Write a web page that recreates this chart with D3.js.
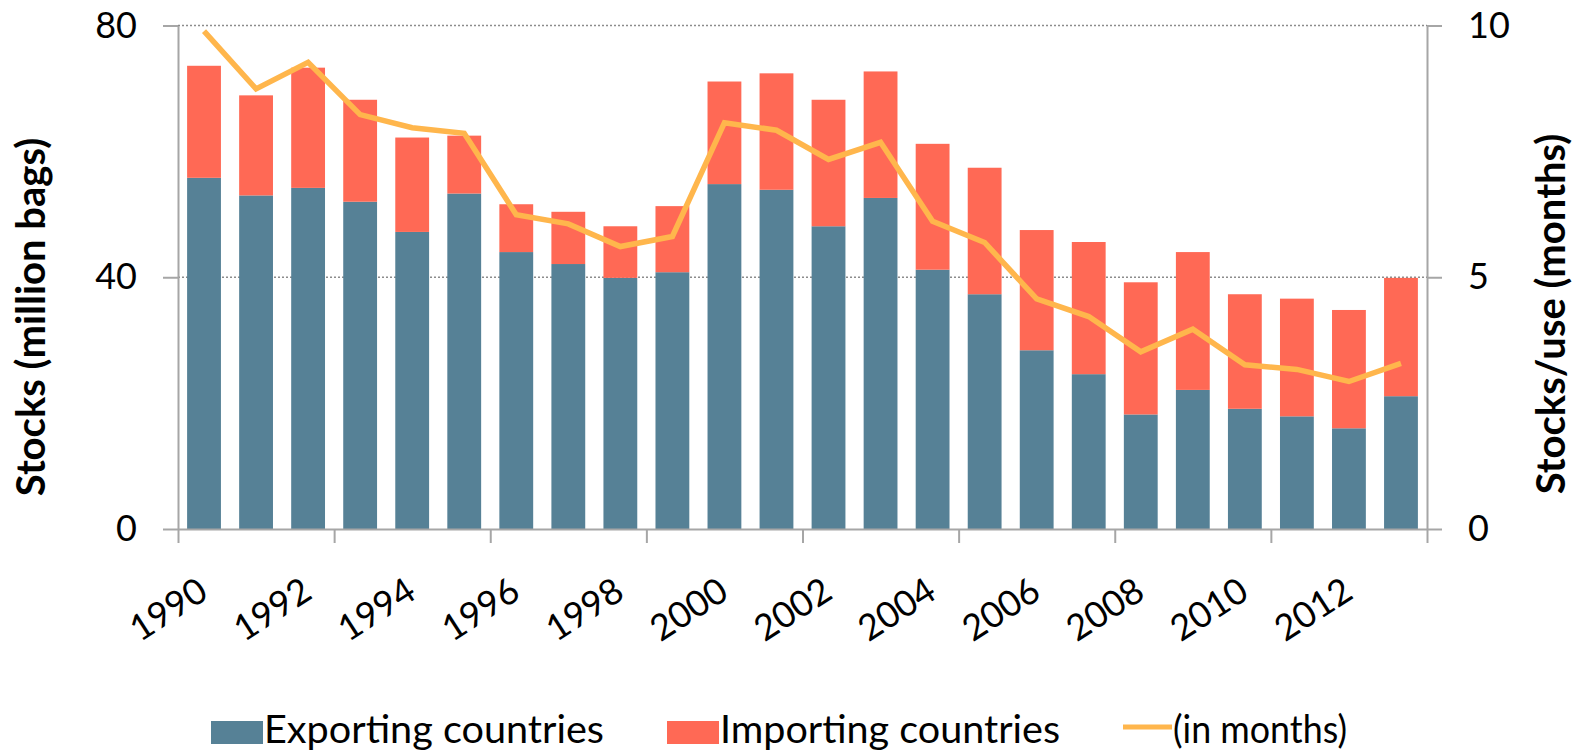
<!DOCTYPE html>
<html>
<head>
<meta charset="utf-8">
<script src="https://cdn.jsdelivr.net/npm/d3@7"></script>
<style>
  html, body { margin: 0; padding: 0; background: #fff; }
  svg { display: block; font-family: Lato, "Open Sans", sans-serif; }
</style>
</head>
<body>
<div id="chart"></div>
<script>
/* ── coffee stocks: stacked bars + stocks/use line ───────────── */

const years      = d3.range(1990, 2014);
const exporting  = [55.8, 53.0, 54.2, 52.0, 47.2, 53.3, 44.0, 42.1, 39.9, 40.8, 54.8, 53.9,
                    48.1, 52.6, 41.2, 37.3, 28.4, 24.6, 18.2, 22.1, 19.1, 17.9, 16.0, 21.1];
const importing  = [17.8, 15.9, 19.1, 16.2, 15.0, 9.2, 7.6, 8.3, 8.2, 10.5, 16.3, 18.5,
                    20.1, 20.1, 20.0, 20.1, 19.1, 21.0, 21.0, 21.9, 18.2, 18.7, 18.8, 18.8];
const months     = [9.89, 8.74, 9.27, 8.23, 7.97, 7.86, 6.24, 6.06, 5.61, 5.81, 8.07, 7.92,
                    7.34, 7.68, 6.11, 5.69, 4.57, 4.22, 3.52, 3.97, 3.26, 3.17, 2.93, 3.29];
const leftTicks  = [0, 40, 80];
const rightTicks = [0, 5, 10];
const labelYears = years.filter(y => y % 2 === 0);

const C_EXP  = '#568196';
const C_IMP  = '#ff6955';
const C_LINE = '#ffb64c';
const C_AXIS = '#a6a6a6';

// ── layout ───────────────────────────────────────────────────
const W = 1584, H = 754;
const X0 = 178, X1 = 1427, Y0 = 529, Y1 = 25.5;

const svg = d3.select('#chart').append('svg')
  .attr('width', W).attr('height', H);

const x = d3.scaleBand().domain(years).range([X0, X1])
  .paddingInner(0.35).paddingOuter(0.175);
const xIdx = d3.scaleLinear().domain([0, years.length]).range([X0, X1]);
const yL = d3.scaleLinear().domain([0, 80]).range([Y0, Y1]);
const yR = d3.scaleLinear().domain([0, 10]).range([Y0, Y1]);

// ── gridlines ────────────────────────────────────────────────
svg.append('g').selectAll('line')
  .data(leftTicks.filter(d => d > 0)).join('line')
  .attr('x1', X0).attr('x2', X1)
  .attr('y1', d => yL(d)).attr('y2', d => yL(d))
  .attr('stroke', '#8c8c8c').attr('stroke-width', 1.5)
  .attr('stroke-dasharray', '2,2');

// ── stacked bars ─────────────────────────────────────────────
const rows = years.map((yr, i) => ({ yr, exp: exporting[i], imp: importing[i] }));
const stack = d3.stack().keys(['exp', 'imp'])(rows);
const colors = { exp: C_EXP, imp: C_IMP };

svg.append('g').selectAll('g')
  .data(stack).join('g')
  .attr('fill', s => colors[s.key])
  .selectAll('rect').data(s => s).join('rect')
  .attr('x', d => x(d.data.yr))
  .attr('width', x.bandwidth())
  .attr('y', d => yL(d[1]))
  .attr('height', d => yL(d[0]) - yL(d[1]));

// ── stocks/use line ──────────────────────────────────────────
const line = d3.line()
  .x((d, i) => x(years[i]) + x.bandwidth() / 2)
  .y(d => yR(d));

svg.append('path').datum(months)
  .attr('d', line)
  .attr('fill', 'none')
  .attr('stroke', C_LINE).attr('stroke-width', 5.5)
  .attr('stroke-linejoin', 'miter');

// ── axes ─────────────────────────────────────────────────────
function styleAxis(g) {
  g.select('.domain').attr('stroke', C_AXIS).attr('stroke-width', 2);
  g.selectAll('.tick line').attr('stroke', C_AXIS).attr('stroke-width', 2);
  g.selectAll('.tick text').attr('fill', '#000')
    .attr('font-family', 'Lato, sans-serif').attr('font-size', 36);
}

svg.append('g').attr('transform', `translate(${X0},0)`)
  .call(d3.axisLeft(yL).tickValues(leftTicks).tickSize(15).tickPadding(26).tickSizeOuter(0))
  .call(styleAxis);

svg.append('g').attr('transform', `translate(${X1},0)`)
  .call(d3.axisRight(yR).tickValues(rightTicks).tickSize(15).tickPadding(26).tickSizeOuter(0))
  .call(styleAxis);

// tick marks every three years on the category boundaries
svg.append('g').attr('transform', `translate(0,${Y0})`)
  .call(d3.axisBottom(xIdx).tickValues(d3.range(0, years.length + 1, 3))
    .tickSize(14).tickSizeOuter(0).tickFormat(''))
  .call(styleAxis);

// year labels, rotated
const xLab = svg.append('g').attr('transform', `translate(0,${Y0})`)
  .call(d3.axisBottom(x).tickValues(labelYears).tickSize(0).tickFormat(d3.format('d')));
xLab.select('.domain').remove();
xLab.selectAll('.tick text')
  .attr('fill', '#000')
  .attr('font-family', 'Lato, sans-serif').attr('font-size', 36)
  .attr('text-anchor', 'end')
  .attr('y', 0).attr('dy', 0)
  .attr('transform', 'translate(6,68) rotate(-33)');

// ── axis titles ──────────────────────────────────────────────
svg.append('text')
  .attr('transform', 'translate(45,317) rotate(-90)')
  .attr('text-anchor', 'middle')
  .attr('font-weight', 700).attr('font-size', 40)
  .text('Stocks (million bags)');

svg.append('text')
  .attr('transform', 'translate(1565,314) rotate(-90)')
  .attr('text-anchor', 'middle')
  .attr('font-weight', 700).attr('font-size', 40)
  .text('Stocks/use (months)');

// ── legend ───────────────────────────────────────────────────
const legendItems = [
  { label: 'Exporting countries', type: 'rect', color: C_EXP,  x: 211,  len: 340 },
  { label: 'Importing countries', type: 'rect', color: C_IMP,  x: 667,  len: 340 },
  { label: '(in months)',         type: 'line', color: C_LINE, x: 1123, len: 174 },
];

const lg = svg.append('g').selectAll('g')
  .data(legendItems).join('g')
  .attr('transform', d => `translate(${d.x},0)`);

lg.filter(d => d.type === 'rect').append('rect')
  .attr('x', 0).attr('y', 721).attr('width', 52).attr('height', 23)
  .attr('fill', d => d.color);

lg.filter(d => d.type === 'line').append('line')
  .attr('x1', 0).attr('x2', 49).attr('y1', 727).attr('y2', 727)
  .attr('stroke', d => d.color).attr('stroke-width', 5);

lg.append('text')
  .attr('x', d => d.type === 'rect' ? 53 : 50)
  .attr('y', 743)
  .attr('font-size', 39)
  .attr('textLength', d => d.len)
  .attr('lengthAdjust', 'spacingAndGlyphs')
  .text(d => d.label);
</script>
</body>
</html>
